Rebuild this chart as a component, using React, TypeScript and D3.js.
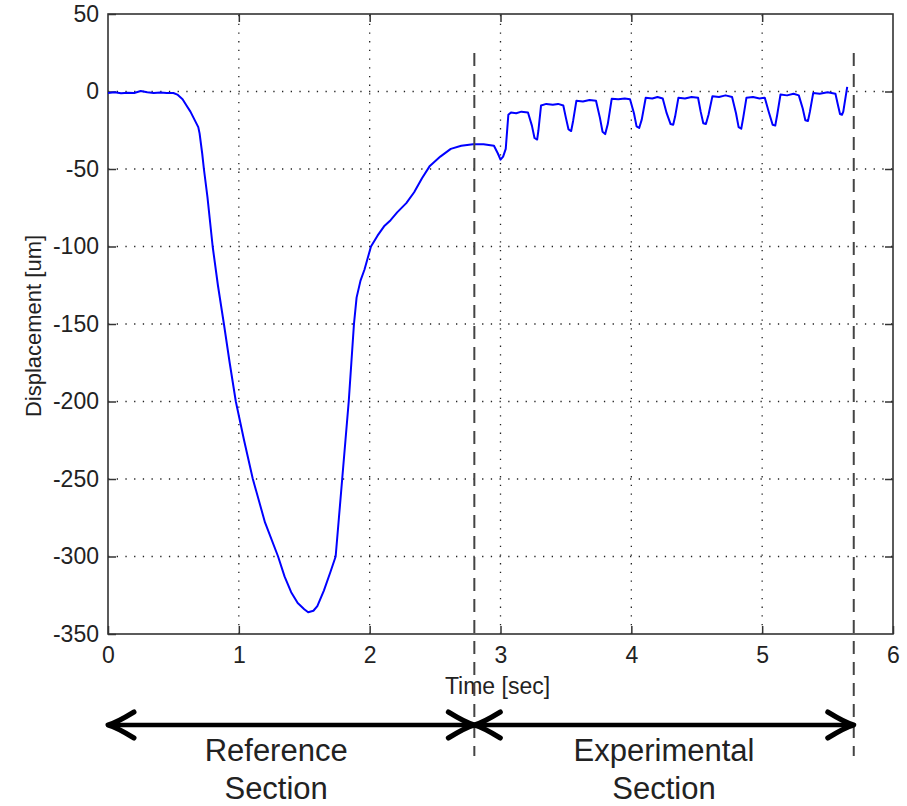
import React, { useRef, useEffect } from 'react'
import * as d3 from 'd3'

// time [sec] and displacement [um]
const times = [
  0, 0.05, 0.1, 0.15, 0.2, 0.25, 0.3, 0.35, 0.4, 0.45, 0.5,
  0.53, 0.57, 0.6, 0.63, 0.66, 0.69, 0.7, 0.72, 0.733, 0.76, 0.8, 0.84, 0.886, 0.93, 0.977,
  1.04, 1.107, 1.2, 1.3, 1.35, 1.4, 1.45, 1.5, 1.53, 1.57, 1.6, 1.65, 1.7, 1.74, 1.765,
  1.79, 1.815, 1.84, 1.86, 1.88, 1.9, 1.93, 1.96, 2.01, 2.06, 2.11, 2.16, 2.21, 2.28,
  2.34, 2.4, 2.46, 2.54, 2.62, 2.7, 2.79, 2.87, 2.95, 2.98, 3.0, 3.02, 3.04,
  3.06, 3.08, 3.12, 3.16, 3.21, 3.24, 3.26, 3.28, 3.29,
  3.31, 3.35, 3.4, 3.44, 3.48, 3.5, 3.52, 3.54, 3.555,
  3.58, 3.63, 3.68, 3.73, 3.76, 3.78, 3.8, 3.82,
  3.85, 3.9, 3.95, 3.99, 4.02, 4.04, 4.06, 4.08,
  4.11, 4.16, 4.2, 4.24, 4.27, 4.3, 4.32, 4.335,
  4.36, 4.41, 4.46, 4.51, 4.53, 4.55, 4.57, 4.59,
  4.62, 4.67, 4.72, 4.77, 4.8, 4.82, 4.84, 4.855,
  4.88, 4.93, 4.98, 5.02, 5.05, 5.08, 5.1, 5.115,
  5.14, 5.19, 5.24, 5.28, 5.31, 5.33, 5.35, 5.365,
  5.39, 5.44, 5.5, 5.56, 5.58, 5.595, 5.61, 5.62, 5.65,
]
const displacement = [
  -1, -0.5, -1.2, -0.8, -1, 0.3, -0.5, -1, -0.6, -1, -1,
  -2, -5, -9, -13, -18, -23, -27, -40, -50, -68, -100, -125, -150, -175, -200,
  -225, -250, -278, -300, -313, -323, -330, -334, -336, -335, -332, -322, -310, -300, -275,
  -250, -225, -200, -175, -150, -133, -122, -115, -100, -93, -87, -83, -78, -72,
  -65, -56, -48, -42, -37, -35, -34, -34, -35, -40, -44, -42, -37,
  -15, -13.5, -14, -13, -13.5, -22, -30, -31, -25,
  -9, -8, -8.5, -8, -9, -17, -24.5, -25.5, -19,
  -6, -6.5, -5.5, -6, -17, -26, -27.5, -21,
  -4.7, -5, -4.5, -5, -14, -22.5, -23.5, -18,
  -4, -4.5, -3.5, -4.5, -14, -21, -21.5, -16,
  -4, -4.5, -3.5, -4, -13, -20.5, -21, -15,
  -3, -3.5, -2.5, -3.5, -14, -23, -24, -17,
  -4, -3.5, -4.5, -4, -13, -21.5, -22, -15,
  -2, -2.5, -1.5, -2.5, -11, -18.5, -19, -13,
  -1, -1.5, -0.5, -1.5, -9, -14.5, -15, -13, 3,
]
const xTicks = [0, 1, 2, 3, 4, 5, 6]
const yTicks = [50, 0, -50, -100, -150, -200, -250, -300, -350]
const sectionBounds = [0, 2.8, 5.7] // start, split, end of sections
const sectionNames = [['Reference', 'Section'], ['Experimental', 'Section']]

const font = '"Liberation Sans", Arial, sans-serif'

const App = () => {
  const svgRef = useRef(null)
  useEffect(() => {
    const w = 907
    const h = 806
    const left = 108, right = 893, top = 14, bottom = 634
    const svg = d3.select(svgRef.current)
      .attr('width', w)
      .attr('height', h)
      .style('background', '#fff')
    svg.selectAll('*').remove()

    const x = d3.scaleLinear().domain([0, 6]).range([left, right])
    const y = d3.scaleLinear().domain([-350, 50]).range([bottom, top])

    // dotted grid
    const grid = svg.append('g')
      .attr('stroke', '#222')
      .attr('stroke-width', 1.3)
      .attr('stroke-dasharray', '1.3,7.4')
    grid.selectAll('.gx')
      .data(xTicks.slice(1, -1))
      .join('line')
      .attr('x1', d => x(d)).attr('x2', d => x(d))
      .attr('y1', bottom).attr('y2', top)
    grid.selectAll('.gy')
      .data(yTicks.slice(1, -1))
      .join('line')
      .attr('x1', left).attr('x2', right)
      .attr('y1', d => y(d)).attr('y2', d => y(d))

    // axes, ticks pointing inward
    const fmt = d => String(d)
    const xAxis = d3.axisBottom(x).tickValues(xTicks).tickFormat(fmt).tickSize(-8).tickSizeOuter(0).tickPadding(13)
    const yAxis = d3.axisLeft(y).tickValues(yTicks).tickFormat(fmt).tickSize(-8).tickSizeOuter(0).tickPadding(9)
    const gx = svg.append('g').attr('transform', `translate(0,${bottom})`).call(xAxis)
    const gy = svg.append('g').attr('transform', `translate(${left},0)`).call(yAxis)
    const gt = svg.append('g').attr('transform', `translate(0,${top})`)
      .call(d3.axisTop(x).tickValues(xTicks.slice(1, -1)).tickSize(-8).tickSizeOuter(0).tickFormat(() => ''))
    const gr = svg.append('g').attr('transform', `translate(${right},0)`)
      .call(d3.axisRight(y).tickValues(yTicks.slice(1, -1)).tickSize(-8).tickSizeOuter(0).tickFormat(() => ''))
    ;[gx, gy, gt, gr].forEach(g => {
      g.select('.domain').remove()
      g.selectAll('line').attr('stroke', '#333').attr('stroke-width', 1.5)
      g.selectAll('text').attr('font-family', font).attr('font-size', 23).attr('fill', '#222')
    })

    svg.append('rect')
      .attr('x', left).attr('y', top)
      .attr('width', right - left).attr('height', bottom - top)
      .attr('fill', 'none').attr('stroke', '#333').attr('stroke-width', 1.6)

    // the signal
    const pts = times.map((t, i) => [t, displacement[i]])
    const line = d3.line().x(d => x(d[0])).y(d => y(d[1]))
    svg.append('path')
      .datum(pts)
      .attr('d', line)
      .attr('fill', 'none')
      .attr('stroke', '#0000ff')
      .attr('stroke-width', 2)
      .attr('stroke-linejoin', 'round')

    // axis labels
    svg.append('text')
      .attr('x', x(3) - 3).attr('y', 694)
      .attr('text-anchor', 'middle')
      .attr('font-family', font).attr('font-size', 23).attr('fill', '#222')
      .text('Time [sec]')
    svg.append('text')
      .attr('transform', `translate(41,${(top + bottom) / 2 + 2}) rotate(-90)`)
      .attr('text-anchor', 'middle')
      .attr('font-family', font).attr('font-size', 22).attr('fill', '#222')
      .text('Displacement [um]')

    // section dividers
    const dashTop = 53, dashBottom = 756
    svg.selectAll('.divider')
      .data(sectionBounds.slice(1))
      .join('line')
      .attr('x1', d => x(d)).attr('x2', d => x(d))
      .attr('y1', dashTop).attr('y2', dashBottom)
      .attr('stroke', '#444')
      .attr('stroke-width', 2)
      .attr('stroke-dasharray', '13,8')

    // double arrows
    const ay = 725
    const head = 26, spread = 13
    const arrows = svg.append('g')
      .attr('stroke', '#000').attr('fill', 'none')
      .attr('stroke-linecap', 'round').attr('stroke-linejoin', 'round')
    sectionNames.forEach((names, i) => {
      const x0 = x(sectionBounds[i])
      const x1 = x(sectionBounds[i + 1])
      arrows.append('line')
        .attr('x1', x0 + 2).attr('x2', x1 - 2).attr('y1', ay).attr('y2', ay)
        .attr('stroke-width', 4.5)
      arrows.append('path')
        .attr('d', `M${x0 + head},${ay - spread} Q${x0 + 8},${ay - 2} ${x0},${ay} Q${x0 + 8},${ay + 2} ${x0 + head},${ay + spread}`)
        .attr('stroke-width', 5)
      arrows.append('path')
        .attr('d', `M${x1 - head},${ay - spread} Q${x1 - 8},${ay - 2} ${x1},${ay} Q${x1 - 8},${ay + 2} ${x1 - head},${ay + spread}`)
        .attr('stroke-width', 5)
      const cx = (x0 + x1) / 2
      names.forEach((s, j) => {
        svg.append('text')
          .attr('x', cx + (i === 0 ? -15 : 0)).attr('y', 761 + j * 38)
          .attr('text-anchor', 'middle')
          .attr('font-family', font).attr('font-size', 31).attr('fill', '#222')
          .text(s)
      })
    })
  }, [])

  return (
    <svg ref={svgRef} style={{ position: 'absolute', left: 0, top: 0 }}></svg>
  )
}

export default App
